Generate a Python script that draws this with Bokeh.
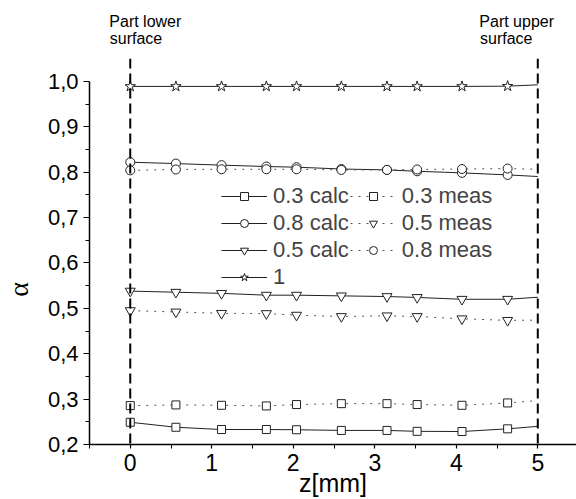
from bokeh.plotting import figure
from bokeh.models import (Range1d, LinearAxis, FixedTicker, Span, Legend, LegendItem)
from bokeh.embed import file_html
from bokeh.resources import INLINE

# ---- data ----
z_points = [0.0, 0.56, 1.12, 1.67, 2.04, 2.59, 3.15, 3.52, 4.07, 4.63]
z_line = z_points + [5.0]          # curves run to the upper surface (no marker there)

calc_03 = [0.249, 0.238, 0.233, 0.233, 0.2325, 0.231, 0.231, 0.229, 0.2286, 0.2345, 0.240]
meas_03 = [0.2857, 0.2872, 0.2864, 0.285, 0.288, 0.290, 0.290, 0.288, 0.2864, 0.2916, 0.2967]
calc_05 = [0.538, 0.5355, 0.533, 0.529, 0.529, 0.5275, 0.526, 0.524, 0.520, 0.520, 0.5245]
meas_05 = [0.495, 0.492, 0.489, 0.4885, 0.485, 0.482, 0.4835, 0.482, 0.477, 0.4735, 0.474]
calc_08 = [0.822, 0.819, 0.8155, 0.8125, 0.811, 0.807, 0.805, 0.802, 0.7985, 0.794, 0.7905]
meas_08 = [0.804, 0.806, 0.8065, 0.8065, 0.8065, 0.805, 0.805, 0.806, 0.807, 0.808, 0.8065]
calc_1 = [0.989, 0.989, 0.989, 0.989, 0.989, 0.989, 0.989, 0.989, 0.989, 0.9895, 0.9925]

surfaces = [0.0, 5.0]
# two-line notes above the surfaces (each line carried by its own top axis)
note_line1_x = [0.185, 4.741]
note_line1 = ["Part lower", "Part upper"]
note_line2_x = [0.071, 4.613]
note_line2 = ["surface", "surface"]

x_ticks = [0, 1, 2, 3, 4, 5]
x_minor = [-0.5, 0.5, 1.5, 2.5, 3.5, 4.5, 5.5]
y_ticks = [0.2, 0.3, 0.4, 0.5, 0.6, 0.7, 0.8, 0.9, 1.0]
y_tick_labels = ["0,2", "0,3", "0,4", "0,5", "0,6", "0,7", "0,8", "0,9", "1,0"]
y_minor = [0.25, 0.35, 0.45, 0.55, 0.65, 0.75, 0.85, 0.95]
y_title = "α"
y_title_at = 0.5418

FONT = "Liberation Sans"

p = figure(width=576, height=499, output_backend="svg", toolbar_location=None,
           x_range=Range1d(-0.5, 5.475), y_range=Range1d(0.2, 1.0505),
           x_axis_type=None, y_axis_type=None,
           min_border_left=88, min_border_right=0, min_border_top=58, min_border_bottom=54)
p.outline_line_color = None
p.xgrid.visible = False
p.ygrid.visible = False
p.background_fill_color = "white"
p.border_fill_color = "white"

xaxis = LinearAxis(ticker=FixedTicker(ticks=x_ticks, minor_ticks=x_minor), axis_label="z[mm]")
xaxis.major_label_text_font = FONT
xaxis.major_label_text_font_size = "23px"
xaxis.major_label_text_color = "black"
xaxis.major_tick_out = 4
xaxis.major_tick_in = 0
xaxis.minor_tick_out = 4
xaxis.minor_tick_in = 0
xaxis.major_label_standoff = 5
xaxis.axis_line_width = 1.5
xaxis.major_tick_line_width = 1.2
xaxis.axis_label_text_font = FONT
xaxis.axis_label_text_font_size = "25px"
xaxis.axis_label_text_font_style = "normal"
xaxis.axis_label_text_color = "black"
xaxis.axis_label_standoff = -5
p.add_layout(xaxis, "below")

yaxis = LinearAxis(ticker=FixedTicker(ticks=y_ticks, minor_ticks=y_minor), bounds=(0.2, 1.0))
yaxis.major_label_overrides = {t: l for t, l in zip(y_ticks, y_tick_labels)}
yaxis.major_label_text_font = FONT
yaxis.major_label_text_font_size = "22px"
yaxis.major_label_text_color = "black"
yaxis.major_tick_out = 6
yaxis.major_tick_in = 0
yaxis.minor_tick_out = 4
yaxis.minor_tick_in = 0
yaxis.major_label_standoff = 5
yaxis.axis_line_width = 1.5
yaxis.major_tick_line_width = 1.2
p.add_layout(yaxis, "left")

# the y title, carried by an outer left axis without line or ticks
ytitle_axis = LinearAxis(ticker=FixedTicker(ticks=[y_title_at], minor_ticks=[]))
ytitle_axis.major_label_overrides = {y_title_at: y_title}
ytitle_axis.major_label_orientation = "vertical"
ytitle_axis.axis_line_color = None
ytitle_axis.major_tick_line_color = None
ytitle_axis.minor_tick_line_color = None
ytitle_axis.major_tick_out = 0
ytitle_axis.major_tick_in = 0
ytitle_axis.major_label_standoff = 10
ytitle_axis.major_label_text_font = "Liberation Serif"
ytitle_axis.major_label_text_font_size = "28px"
ytitle_axis.major_label_text_color = "black"
p.add_layout(ytitle_axis, "left")


def note_axis(xs, texts, standoff):
    ax = LinearAxis(ticker=FixedTicker(ticks=xs, minor_ticks=[]))
    ax.major_label_overrides = {x: t for x, t in zip(xs, texts)}
    ax.axis_line_color = None
    ax.major_tick_line_color = None
    ax.minor_tick_line_color = None
    ax.major_tick_out = 0
    ax.major_tick_in = 0
    ax.major_label_standoff = standoff
    ax.major_label_text_font = FONT
    ax.major_label_text_font_size = "16px"
    ax.major_label_text_color = "black"
    return ax

p.add_layout(note_axis(note_line2_x, note_line2, 12), "above")
p.add_layout(note_axis(note_line1_x, note_line1, -3), "above")

# surface markers
for s in surfaces:
    p.add_layout(Span(location=s, dimension="height", line_color="black",
                      line_width=2, line_dash="10 5"))

CALC = "#222222"
MEAS = "#555555"

def series(vals, marker, size, dashed):
    lr = p.line(z_line, vals, line_color=MEAS if dashed else CALC, line_width=1,
                line_dash="2 6" if dashed else "solid")
    sr = p.scatter(z_points, vals[:len(z_points)], marker=marker, size=size,
                   fill_color="white", line_color="#222222", line_width=1)
    return [lr, sr]

r_c03 = series(calc_03, "square", 8, False)
r_m03 = series(meas_03, "square", 8, True)
r_c05 = series(calc_05, "inverted_triangle", 10, False)
r_m05 = series(meas_05, "inverted_triangle", 10, True)
r_c08 = series(calc_08, "circle", 9, False)
r_m08 = series(meas_08, "circle", 9, True)
r_1 = series(calc_1, "star", 11, False)

# legend filled column by column (4 rows)
items = [
    LegendItem(label="0.3 calc", renderers=r_c03),
    LegendItem(label="0.8 calc", renderers=r_c08),
    LegendItem(label="0.5 calc", renderers=r_c05),
    LegendItem(label="1", renderers=r_1),
    LegendItem(label="0.3 meas", renderers=r_m03),
    LegendItem(label="0.5 meas", renderers=r_m05),
    LegendItem(label="0.8 meas", renderers=r_m08),
]
legend = Legend(items=items, ncols=2, location=(132, 154),
                label_text_font=FONT, label_text_font_size="22px",
                glyph_width=46, glyph_height=20, label_height=20, label_standoff=6,
                spacing=1, padding=0, margin=0,
                border_line_color=None, background_fill_alpha=0)
p.add_layout(legend, "center")

open("out.html", "w").write(file_html(p, INLINE))
